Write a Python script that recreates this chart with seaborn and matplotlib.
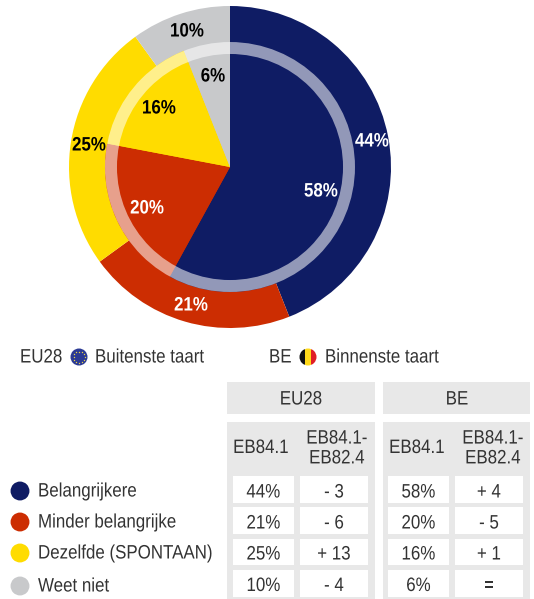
import numpy as np
import pandas as pd
import seaborn as sns
import matplotlib.pyplot as plt
from matplotlib.patches import Rectangle, Circle
from matplotlib.patheffects import AbstractPathEffect
from matplotlib.transforms import Affine2D

categories = ['Belangrijkere', 'Minder belangrijke', 'Dezelfde (SPONTAAN)', 'Weet niet']
eu_values = [44, 21, 25, 10]
be_values = [58, 20, 16, 6]
eu_diff = ['- 3', '- 6', '+ 13', '- 4']
be_diff = ['+ 4', '- 5', '+ 1', '=']
colors = ['#0F1C64', '#CC2D02', '#FFDC00', '#C8C9CB']
label_colors = ['white', 'white', 'black', 'black']

W, H = 534, 599
TXT = '#333333'

sns.set_theme(style='white')
plt.rcParams['font.family'] = ['Liberation Sans', 'DejaVu Sans']

fig = plt.figure(figsize=(W / 100, H / 100), dpi=100)
ax = fig.add_axes([0, 0, 1, 1])


# the reference font is narrower than Liberation Sans
class Squeeze(AbstractPathEffect):
    def __init__(self, x0, sx=0.87):
        self.x0 = x0
        self.sx = sx

    def draw_path(self, renderer, gc, tpath, affine, rgbFace=None):
        squeeze = Affine2D().translate(-self.x0, 0).scale(self.sx, 1).translate(self.x0, 0)
        renderer.draw_path(gc, tpath, affine + squeeze, rgbFace)


def Y(py):
    return H - py


def rect(x0, y0, x1, y1, color):
    ax.add_patch(Rectangle((x0, Y(y1)), x1 - x0, y1 - y0, color=color, lw=0, zorder=1))


def txt(x, y, s, size=14, color=TXT, ha='center', **kw):
    ax.text(x, Y(y + 1), s, fontsize=size, color=color, ha=ha, va='center', zorder=6,
            path_effects=[Squeeze(x)], **kw)


# the two pies
cx, cy = 230, 167
ax.pie(eu_values, colors=colors, startangle=90, counterclock=False,
       center=(cx, Y(cy)), radius=161, wedgeprops={'lw': 0, 'zorder': 2})
ax.pie(be_values, colors=colors, startangle=90, counterclock=False,
       center=(cx, Y(cy)), radius=125, wedgeprops={'lw': 0, 'zorder': 3})
# pale ring on top of the inner pie
ax.add_patch(Circle((cx, Y(cy)), 119, fill=False, ec='white', lw=8.6, alpha=0.55, zorder=4))

ax.set_xlim(0, W)
ax.set_ylim(0, H)
ax.set_aspect('equal')
ax.axis('off')

# pie labels
eu_pos = [(372, 141), (191, 305), (89, 145), (187, 31)]
be_pos = [(321, 191), (147, 208), (159, 108), (213, 76)]
for (x, y), v, c in zip(eu_pos, eu_values, label_colors):
    txt(x, y, f'{v}%', color=c, fontweight='bold')
for (x, y), v, c in zip(be_pos, be_values, label_colors):
    txt(x, y, f'{v}%', color=c, fontweight='bold')

# caption with the flags
txt(20, 357, 'EU28', ha='left')
txt(95, 357, 'Buitenste taart', ha='left')
txt(269, 357, 'BE', ha='left')
txt(325, 357, 'Binnenste taart', ha='left')

ax.add_patch(Circle((79, Y(357)), 8.5, color='#2B3A94', lw=0, zorder=3))
for a in np.arange(0, 360, 30):
    ax.plot(79 + 5.5 * np.cos(np.radians(a)), Y(357) + 5.5 * np.sin(np.radians(a)),
            'o', ms=1, color='#E8D24A', mew=0, zorder=4)
clip = Circle((308, Y(357)), 8.5, transform=ax.transData)
for x0, c in zip([299, 305, 311], ['#111111', '#FFD91A', '#E01E26']):
    r = Rectangle((x0, Y(366)), 6, 18, color=c, lw=0, zorder=3)
    ax.add_patch(r)
    r.set_clip_path(clip)

# table
gray = '#E8E8E8'
rect(227, 382, 375, 414, gray)
rect(383, 382, 530, 414, gray)
rect(227, 422, 375, 599, gray)
rect(383, 422, 530, 599, gray)
txt(301, 399, 'EU28')
txt(457, 399, 'BE')
txt(261, 447.5, 'EB84.1')
txt(337, 448, 'EB84.1-\nEB82.4', linespacing=1.22)
txt(417, 447.5, 'EB84.1')
txt(493, 448, 'EB84.1-\nEB82.4', linespacing=1.22)

row_top = [476, 507, 539, 570]
row_bot = [503, 534, 565, 597]
row_txt = [492, 523, 554, 585.5]
columns = [(233, 294), (300, 368), (388, 449), (455, 523)]
eu_pct = [f'{v}%' for v in eu_values]
be_pct = [f'{v}%' for v in be_values]
for (x0, x1), col in zip(columns, [eu_pct, eu_diff, be_pct, be_diff]):
    for y0, y1, yt, s in zip(row_top, row_bot, row_txt, col):
        rect(x0, y0, x1, y1, 'white')
        txt((x0 + x1) / 2, yt, s)

# legend
dot_y = [491, 522, 553, 586]
legend_df = pd.DataFrame({'x': [20] * 4, 'y': [Y(v) for v in dot_y], 'cat': categories})
sns.scatterplot(data=legend_df, x='x', y='y', hue='cat', palette=colors, s=185,
                linewidth=0, legend=False, ax=ax, zorder=5)
ax.set_xlim(0, W)
ax.set_ylim(0, H)
for y, s in zip(dot_y, categories):
    txt(38, y, s, ha='left')

fig.savefig('out.png', dpi=100)
